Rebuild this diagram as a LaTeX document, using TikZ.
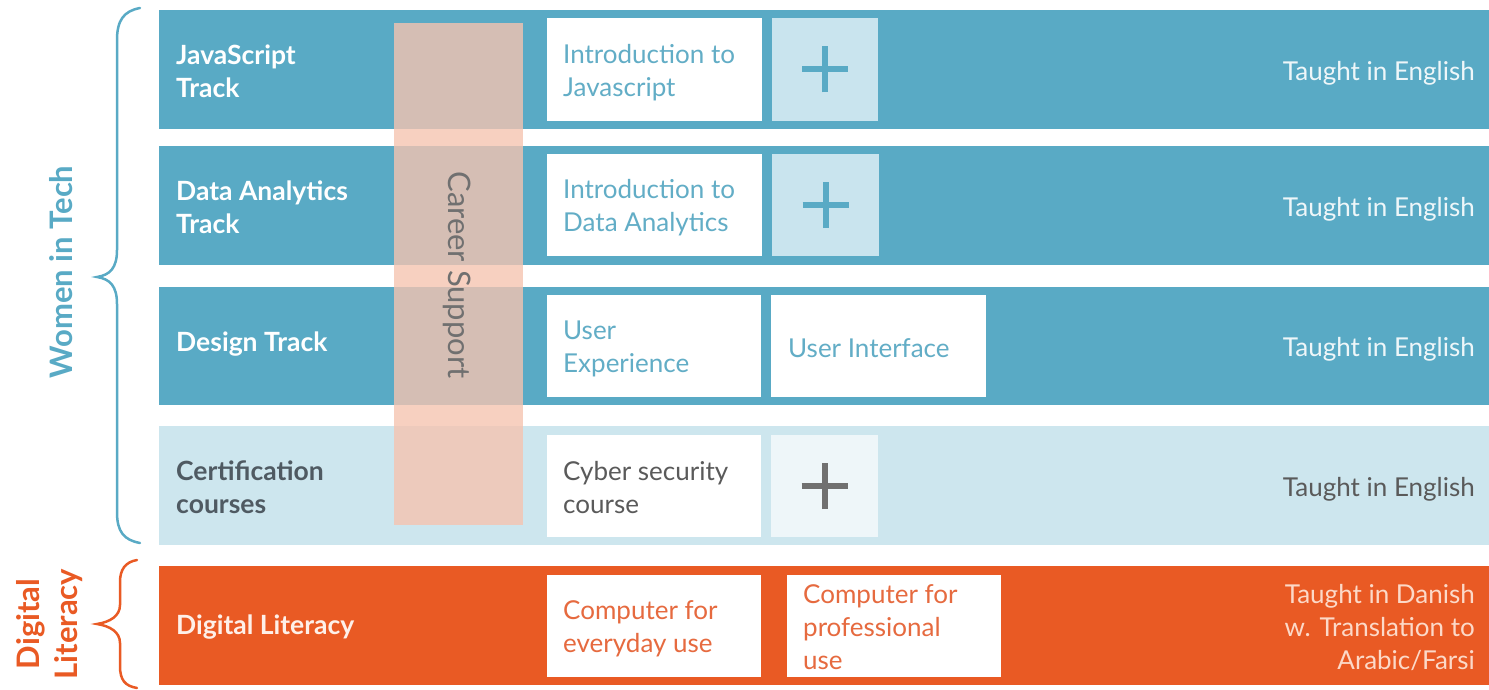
\documentclass[tikz,border=0pt]{standalone}
\usepackage{fontspec}
\setmainfont{Lato}
\definecolor{rowblue}{HTML}{59AAC5}
\definecolor{rowlight}{HTML}{CDE6EE}
\definecolor{plusbg}{HTML}{C9E4EE}
\definecolor{plusbglight}{HTML}{EEF6F9}
\definecolor{orng}{HTML}{E95A24}
\definecolor{career}{HTML}{F5C4B0}
\definecolor{txtblue}{HTML}{62ADC6}
\definecolor{txtgray}{HTML}{5A5A5A}
\definecolor{labgray}{HTML}{4F5A62}
\definecolor{txtorng}{HTML}{E66A3F}
\definecolor{peach}{HTML}{FCD9C8}
\definecolor{cgray}{HTML}{707070}
\begin{document}
\begin{tikzpicture}[x=1pt,y=-1pt,
  box/.style={anchor=north west,inner sep=0pt,outer sep=0pt},
  reg/.style={font=\fontsize{26}{33}\selectfont},
  lab/.style={font=\fontsize{26.5}{33}\selectfont\bfseries,anchor=west,align=left,inner sep=0pt},
  boxtxt/.style={reg,anchor=west,align=left,inner sep=0pt},
  righttxt/.style={reg,anchor=east,align=right,inner sep=0pt},
  plussign/.style={line width=6pt}
]
\useasboundingbox (0,0) rectangle (1489,690);
% rows
\node[box,fill=rowblue,minimum width=1330pt,minimum height=119pt] (r1) at (159,10) {};
\node[box,fill=rowblue,minimum width=1330pt,minimum height=119pt] (r2) at (159,146) {};
\node[box,fill=rowblue,minimum width=1330pt,minimum height=118pt] (r3) at (159,287) {};
\node[box,fill=rowlight,minimum width=1330pt,minimum height=119pt] (r4) at (159,426) {};
\node[box,fill=orng,minimum width=1330pt,minimum height=119pt] (r5) at (159,566) {};
% career support overlay
\node[box,fill=career,fill opacity=0.8,minimum width=129pt,minimum height=502pt] (cs) at (394,23) {};
\node[text=cgray,rotate=-90,inner sep=0pt,font=\fontsize{31}{36}\selectfont] (cst) at (457,275) {Career Support};
% row labels
\node[lab,text=white] (l1) at (176,71) {JavaScript\\Track};
\node[lab,text=white] (l2) at (176,207) {Data Analytics\\Track};
\node[lab,text=white] (l3) at (176,344) {Design Track};
\node[lab,text=labgray] (l4) at (176,487) {Certification\\courses};
\node[lab,text=peach!40!white] (l5) at (176,627) {Digital Literacy};
% white boxes
\node[box,fill=white,minimum width=215pt,minimum height=103pt] (b1) at (547,18) {};
\node[box,fill=plusbg,minimum width=106pt,minimum height=103pt] (p1) at (772,18) {};
\node[box,fill=white,minimum width=215pt,minimum height=102pt] (b2) at (547,154) {};
\node[box,fill=plusbg,minimum width=107pt,minimum height=102pt] (p2) at (772,154) {};
\node[box,fill=white,minimum width=214pt,minimum height=102pt] (b3) at (547,295) {};
\node[box,fill=white,minimum width=215pt,minimum height=102pt] (b3b) at (771,295) {};
\node[box,fill=white,minimum width=214pt,minimum height=102pt] (b4) at (547,435) {};
\node[box,fill=plusbglight,minimum width=107pt,minimum height=102pt] (p4) at (771,435) {};
\node[box,fill=white,minimum width=214pt,minimum height=102pt] (b5) at (547,575) {};
\node[box,fill=white,minimum width=214pt,minimum height=102pt] (b5b) at (787,575) {};
% plus signs
\draw[plussign,rowblue] ([xshift=-23pt]p1.center) -- ([xshift=23pt]p1.center);
\draw[plussign,rowblue] ([yshift=-23pt]p1.center) -- ([yshift=23pt]p1.center);
\draw[plussign,rowblue] ([xshift=-23pt]p2.center) -- ([xshift=23pt]p2.center);
\draw[plussign,rowblue] ([yshift=-23pt]p2.center) -- ([yshift=23pt]p2.center);
\draw[plussign,cgray] ([xshift=-23pt]p4.center) -- ([xshift=23pt]p4.center);
\draw[plussign,cgray] ([yshift=-23pt]p4.center) -- ([yshift=23pt]p4.center);
% box texts
\node[boxtxt,text=txtblue] (t1) at (563,73) {Introduction to\\Javascript};
\node[boxtxt,text=txtblue] (t2) at (563,208) {Introduction to\\Data Analytics};
\node[boxtxt,text=txtblue] (t3) at (563,349) {User\\Experience};
\node[boxtxt,text=txtblue] (t3b) at (788,348) {User Interface};
\node[boxtxt,text=txtgray] (t4) at (563,488) {Cyber security\\course};
\node[boxtxt,text=txtorng] (t5) at (563,629) {Computer for\\everyday use};
\node[boxtxt,text=txtorng] (t5b) at (803,627) {Computer for\\professional\\use};
% right texts
\node[righttxt,text=white,text opacity=0.9] (e1) at (1475,73) {Taught in English};
\node[righttxt,text=white,text opacity=0.9] (e2) at (1475,209) {Taught in English};
\node[righttxt,text=white,text opacity=0.9] (e3) at (1475,349) {Taught in English};
\node[righttxt,text=txtgray] (e4) at (1475,489) {Taught in English};
\node[righttxt,text=peach] (e5) at (1475,628) {Taught in Danish\\w. Translation to\\Arabic/Farsi};
% braces
\draw[rowblue,line width=2.5pt,line cap=round]
  (140,8) .. controls (124,11) and (117,20) .. (117,40)
  -- (117,250) .. controls (117,268) and (110,275) .. (97,277)
  .. controls (110,279) and (117,286) .. (117,304)
  -- (117,512) .. controls (117,532) and (124,540) .. (140,543);
\coordinate (wtip) at (97,277);
\draw[orng,line width=2.5pt,line cap=round]
  (137,560) .. controls (125,562) and (120,570) .. (120,582)
  -- (120,605) .. controls (120,616) and (110,622) .. (97,624)
  .. controls (110,626) and (120,632) .. (120,643)
  -- (120,666) .. controls (120,680) and (125,686) .. (137,688);
\coordinate (dtip) at (97,624);
\node[font=\fontsize{31}{38}\selectfont\bfseries,text=rowblue,rotate=90,inner sep=0pt] (wit) at (61,272) {Women in Tech};
\node[font=\fontsize{31}{38}\selectfont\bfseries,text=orng,rotate=90,align=center,inner sep=0pt] (dl) at (50,624) {Digital\\Literacy};
\end{tikzpicture}
\end{document}
